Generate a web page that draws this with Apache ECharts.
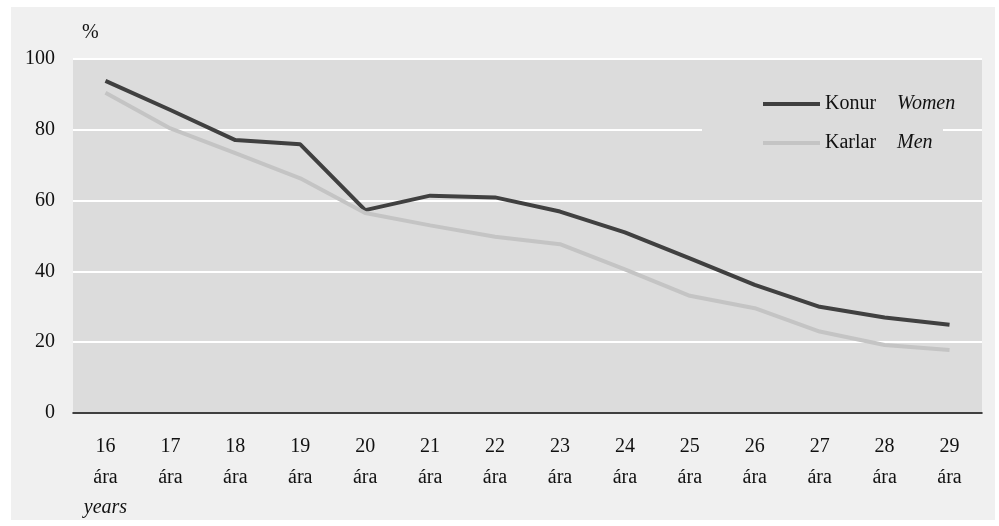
<!DOCTYPE html>
<html>
<head>
<meta charset="utf-8">
<script src="https://cdn.jsdelivr.net/npm/echarts@6/dist/echarts.min.js"></script>
<style>
  html, body { margin: 0; padding: 0; background: #ffffff; }
  #chart { width: 999px; height: 526px; }
</style>
</head>
<body>
<div id="chart"></div>
<script>
// 数据
var ages = ['16', '17', '18', '19', '20', '21', '22', '23', '24', '25', '26', '27', '28', '29'];
var women = [93.8, 85.6, 77.1, 75.9, 57.3, 61.4, 60.9, 56.9, 51.0, 43.7, 36.2, 30.0, 27.0, 24.9];
var men = [90.5, 80.4, 73.4, 66.3, 56.5, 53.0, 49.8, 47.7, 40.6, 33.1, 29.6, 23.0, 19.2, 17.8];
var yTicks = [0, 20, 40, 60, 80, 100];

var serif = 'Liberation Serif';

var myChart = echarts.init(document.getElementById('chart'));

var option = {
    backgroundColor: '#ffffff',
    animation: false,
    textStyle: { fontFamily: serif },
    graphic: [
        // outer panel
        { type: 'rect', z: -10, shape: { x: 11, y: 7, width: 984, height: 513 }, style: { fill: '#f0f0f0' } },
        // legend box hides the gridline
        { type: 'rect', z: 1, shape: { x: 702, y: 115, width: 241, height: 34 }, style: { fill: '#dcdcdc' } }
    ],
    grid: {
        left: 73, right: 17, top: 59, bottom: 113,
        show: true, backgroundColor: '#dcdcdc', borderWidth: 0
    },
    legend: {
        orient: 'vertical',
        left: 758, top: 89,
        itemWidth: 57, itemHeight: 4,
        itemGap: 19,
        icon: 'rect',
        data: ['Konur', 'Karlar'],
        formatter: function (name) {
            if (name == 'Konur') return '{a|Konur}{b|Women}';
            return '{a|Karlar}{b|Men}';
        },
        textStyle: {
            fontFamily: serif, fontSize: 20, color: '#111',
            rich: {
                a: { fontFamily: serif, fontSize: 20, color: '#111', lineHeight: 22 },
                b: { fontFamily: serif, fontSize: 20, color: '#111', fontStyle: 'italic', padding: [0, 0, 0, 21], lineHeight: 22 }
            }
        }
    },
    xAxis: {
        type: 'category',
        data: ages,
        boundaryGap: true,
        axisLine: { lineStyle: { color: '#000', width: 1.5 } },
        axisTick: { show: false },
        axisLabel: {
            margin: 18,
            formatter: function (v, i) {
                var s = '{n|' + v + '}\n{a|ára}';
                if (i == 0) s += '\n{y|years}';
                return s;
            },
            rich: {
                n: { fontFamily: serif, fontSize: 20, color: '#111', lineHeight: 31 },
                a: { fontFamily: serif, fontSize: 20, color: '#111', lineHeight: 31 },
                y: { fontFamily: serif, fontSize: 20, color: '#111', fontStyle: 'italic', lineHeight: 30 }
            }
        }
    },
    yAxis: {
        type: 'value',
        min: yTicks[0], max: yTicks[yTicks.length - 1], interval: 20,
        name: '%',
        nameGap: 16,
        nameTextStyle: { fontFamily: serif, fontSize: 20, color: '#111', align: 'left', padding: [0, 0, 0, 9] },
        axisLine: { show: false },
        axisTick: { show: false },
        axisLabel: { fontFamily: serif, fontSize: 20, color: '#111', margin: 18 },
        splitLine: { lineStyle: { color: '#ffffff', width: 2 } }
    },
    series: [
        {
            name: 'Konur', type: 'line', data: women,
            symbol: 'none',
            color: '#404040',
            lineStyle: { color: '#404040', width: 4 }
        },
        {
            name: 'Karlar', type: 'line', data: men,
            symbol: 'none',
            color: '#c4c4c4',
            lineStyle: { color: '#c4c4c4', width: 4 }
        }
    ]
};

myChart.setOption(option);
</script>
</body>
</html>
